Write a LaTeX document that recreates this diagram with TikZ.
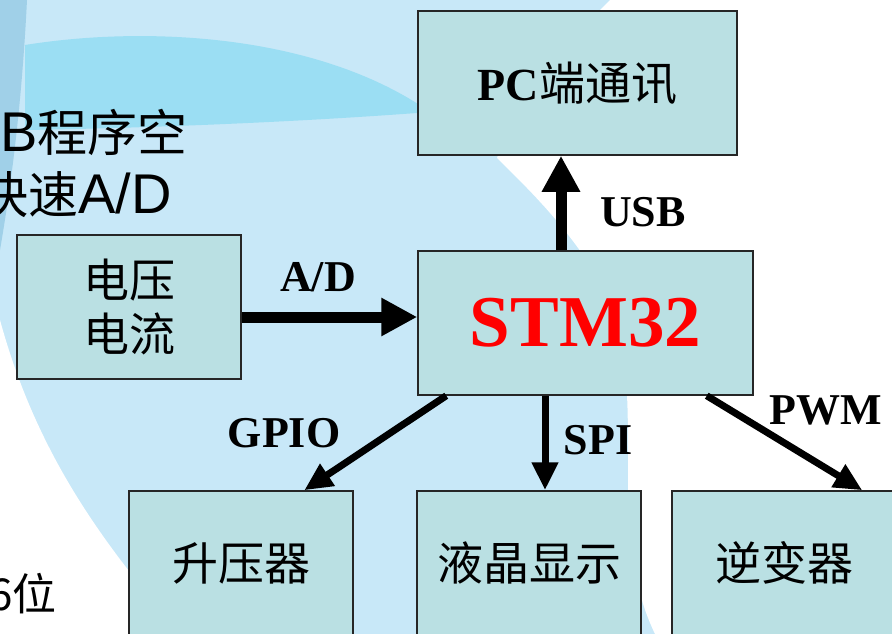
\documentclass[tikz,border=0pt]{standalone}
\usepackage{fontspec}
\setmainfont{Liberation Serif}
\newfontfamily\cjk{Noto Sans CJK SC}
\newfontfamily\arial{Liberation Sans}
\usetikzlibrary{arrows.meta,calc}
\definecolor{bgblue}{RGB}{200,232,248}
\definecolor{bandblue}{RGB}{155,222,243}
\definecolor{edgeblue}{RGB}{160,208,232}
\definecolor{boxfill}{RGB}{186,224,227}

\begin{document}
\begin{tikzpicture}[x=1pt,y=-1pt,
    blk/.style={draw=black!85,line width=1.5pt,fill=boxfill,minimum width=224pt,
      minimum height=144pt,inner sep=0pt,align=center,font=\cjk\fontsize{46}{54}\selectfont},
    lbl/.style={font=\bfseries\fontsize{44}{48}\selectfont},
    side/.style={anchor=base west,inner sep=0pt,font=\cjk\fontsize{50}{50}\selectfont},
    bigarr/.style={line width=11pt,-{Triangle[length=36pt,width=36pt]}},
    arr/.style={line width=7pt,-{Triangle[length=28pt,width=25pt]}}]
    \useasboundingbox (0,0) rectangle (892,634);
    \clip (0,0) rectangle (892,634);
    \fill[bgblue] (0,0) rectangle (892,634);
    \fill[edgeblue] (0,0) -- (27,0) .. controls (22,100) and (12,180) .. (0,250) -- cycle;
    \fill[bandblue] (25,45) .. controls (150,25) and (320,35) .. (430,112)
      .. controls (300,122) and (150,128) .. (25,130) -- cycle;
    \fill[white] (610,0) -- (892,0) -- (892,634) -- (655,634)
      .. controls (610,540) and (640,440) .. (620,330)
      .. controls (600,260) and (540,200) .. (497,158)
      .. controls (520,90) and (580,30) .. (610,0) -- cycle;
    \fill[white] (0,320) .. controls (30,430) and (80,510) .. (140,585) -- (140,634) -- (0,634) -- cycle;

    \node[side] (memtxt) at (0,151) {{\arial\fontsize{56}{56}\selectfont B}程序空};
    \node[side] (adtxt) at (-22,213) {快速{\arial\fontsize{56}{56}\selectfont A/D}};
    \node[side,font=\cjk\fontsize{44}{44}\selectfont] (bittxt) at (-12,610) {6位};

    \node[blk,minimum width=319pt] (pc) at (577.5,83) {{\rmfamily\bfseries PC}端通讯};
    \node[blk,minimum width=335pt,font=\bfseries\fontsize{73}{80}\selectfont,text=red] (stm) at (585.5,323) {STM32};
    \node[blk] (uin) at (129,307) {电压\\电流};
    \node[blk] (boost) at (241,563) {升压器};
    \node[blk] (lcd) at (529,563) {液晶显示};
    \node[blk] (inv) at (784,563) {逆变器};

    \draw[bigarr] ([xshift=-24.5pt]stm.north) -- ([xshift=-16.5pt]pc.south);
    \draw[bigarr] ([yshift=-10pt]uin.east) -- ([yshift=-10pt]uin.east -| stm.west);
    \draw[arr] ([xshift=29pt]stm.south west) -- ([xshift=176pt]boost.north west);
    \draw[arr] ([xshift=-40.5pt]stm.south) -- ([xshift=16pt]lcd.north);
    \draw[arr] ([xshift=-47pt]stm.south east) -- ([xshift=191pt]inv.north west);

    \node[lbl] (usb) at (643,212) {USB};
    \node[lbl] (ad) at (318,277) {A/D};
    \node[lbl] (gpio) at (284,433) {GPIO};
    \node[lbl] (spi) at (598,440) {SPI};
    \node[lbl] (pwm) at (826,410) {PWM};
\end{tikzpicture}
\end{document}
